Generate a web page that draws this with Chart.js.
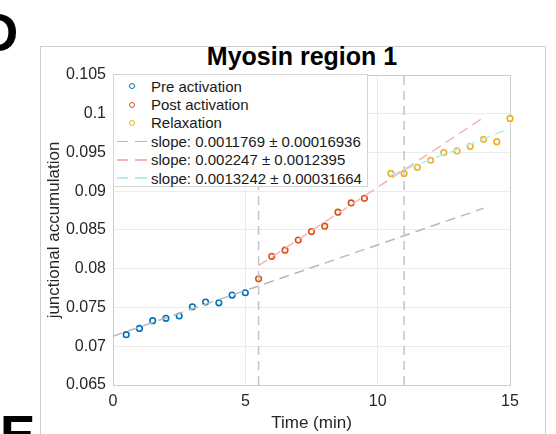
<!DOCTYPE html>
<html>
<head>
<meta charset="utf-8">
<script src="https://cdn.jsdelivr.net/npm/chart.js@4.4.1/dist/chart.umd.min.js"></script>
<style>
    body { margin: 0; width: 556px; height: 434px; overflow: hidden; background: #fff; position: relative; font-family: 'Liberation Sans', Arial, sans-serif; }
    .painel { position: absolute; left: 40px; top: 46px; width: 506px; height: 400px; border: 1px solid #cfcfcf; box-sizing: border-box; }
    .letra { position: absolute; font-weight: bold; font-size: 53px; line-height: 53px; color: #000; }
    #titulo { position: absolute; left: 0; top: 44px; width: 604px; text-align: center; font-weight: bold; font-size: 25px; line-height: 25px; color: #000; white-space: nowrap; }
    #grafico { position: absolute; left: 0; top: 0; }
    #legenda { position: absolute; left: 113px; top: 74px; width: 255px; height: 113px; box-sizing: border-box; border: 1px solid #d4d4d4; background: #fff; padding-top: 2px; }
    .linha { height: 18.4px; display: flex; align-items: center; font-size: 15px; color: #1a1a1a; white-space: nowrap; }
    .amostra { width: 36px; display: flex; justify-content: center; align-items: center; margin-right: 1px; }
    .bolinha { width: 4px; height: 4px; border-radius: 50%; border: 1.6px solid; }
    .traco { width: 30px; height: 1.5px; }
</style>
</head>
<body>
<div class="painel"></div>
<div class="letra" style="left:-20px; top:6px;">D</div>
<div class="letra" style="left:0px; top:408px;">E</div>
<div id="titulo">Myosin region 1</div>
<canvas id="grafico" width="556" height="434"></canvas>
<div id="legenda"></div>
<script>
// Dados
const tempoPre = [0.5, 1, 1.5, 2, 2.5, 3, 3.5, 4, 4.5, 5];
const valoresPre = [0.0715, 0.0723, 0.0733, 0.0736, 0.0739, 0.0751, 0.0757, 0.0756, 0.0766, 0.0769];

const tempoPos = [5.5, 6, 6.5, 7, 7.5, 8, 8.5, 9, 9.5];
const valoresPos = [0.0787, 0.0816, 0.0824, 0.0837, 0.0848, 0.0855, 0.0873, 0.0885, 0.0891];

const tempoRelax = [10.5, 11, 11.5, 12, 12.5, 13, 13.5, 14, 14.5, 15];
const valoresRelax = [0.0923, 0.0923, 0.0931, 0.0940, 0.0950, 0.0952, 0.0958, 0.0967, 0.0964, 0.0994];

// Retas de ajuste (pontas)
const ajustePreX = [0, 14];
const ajustePreY = [0.0713, 0.0878];
const ajustePosX = [5.5, 14];
const ajustePosY = [0.0804, 0.0995];
const ajusteRelaxX = [10.5, 15];
const ajusteRelaxY = [0.0921, 0.0981];

// Linhas verticais que separam as fases
const limitesFase = [5.5, 11];

const ticksX = [0, 5, 10, 15];
const ticksY = [0.065, 0.07, 0.075, 0.08, 0.085, 0.09, 0.095, 0.1, 0.105];

const rotulos = ['Pre activation', 'Post activation', 'Relaxation',
    'slope: 0.0011769 \u00b1 0.00016936',
    'slope: 0.002247 \u00b1 0.0012395',
    'slope: 0.0013242 \u00b1 0.00031664'];

const corPre = '#0072BD';
const corPos = '#D95319';
const corRelax = '#EDB120';
const corAjPre = '#b8b8b8';
const corAjPos = '#f4b4b4';
const corAjRelax = '#b4eef4';

const fonte = "'Liberation Sans', Arial, sans-serif";

function pontos(xs, ys) {
    return xs.map((x, i) => ({ x: x, y: ys[i] }));
}

function serieMarcador(label, xs, ys, cor) {
    return {
        label: label,
        data: pontos(xs, ys),
        showLine: false,
        borderColor: cor,
        backgroundColor: '#fff',
        pointRadius: 2.8,
        pointBorderWidth: 1.6,
        clip: false
    };
}

function serieReta(label, xs, ys, cor, traco) {
    return {
        label: label,
        data: pontos(xs, ys),
        showLine: true,
        borderColor: cor,
        borderWidth: 1.5,
        borderDash: traco,
        pointRadius: 0,
        fill: false
    };
}

const datasets = [];
limitesFase.forEach(x => {
    datasets.push(serieReta('limite', [x, x], [ticksY[0], ticksY[ticksY.length - 1]], '#c4c4c4', [9, 6]));
});
datasets.push(serieReta(rotulos[3], ajustePreX, ajustePreY, corAjPre, [10, 6]));
datasets.push(serieReta(rotulos[4], ajustePosX, ajustePosY, corAjPos, [10, 6]));
datasets.push(serieReta(rotulos[5], ajusteRelaxX, ajusteRelaxY, corAjRelax, [10, 6]));
datasets.push(serieMarcador(rotulos[0], tempoPre, valoresPre, corPre));
datasets.push(serieMarcador(rotulos[1], tempoPos, valoresPos, corPos));
datasets.push(serieMarcador(rotulos[2], tempoRelax, valoresRelax, corRelax));

// Caixa em volta da área do gráfico
const caixa = {
    id: 'caixa',
    beforeDatasetsDraw(chart) {
        const a = chart.chartArea;
        const ctx = chart.ctx;
        ctx.save();
        ctx.strokeStyle = '#cccccc';
        ctx.lineWidth = 1;
        ctx.strokeRect(Math.round(a.left) + 0.5, Math.round(a.top) + 0.5, Math.round(a.right - a.left), Math.round(a.bottom - a.top));
        ctx.restore();
    }
};

new Chart(document.getElementById('grafico').getContext('2d'), {
    type: 'scatter',
    data: { datasets: datasets },
    options: {
        responsive: false,
        animation: false,
        layout: { padding: { left: 44, right: 46, top: 75, bottom: 0 } },
        plugins: {
            legend: { display: false },
            tooltip: { enabled: false }
        },
        scales: {
            x: {
                type: 'linear',
                min: 0,
                max: 15,
                afterBuildTicks: s => { s.ticks = ticksX.map(v => ({ value: v })); },
                afterFit: s => { s.height = 49; },
                grid: { color: '#ebebeb', drawTicks: false },
                border: { display: false },
                ticks: {
                    color: '#262626',
                    padding: 7,
                    font: { family: fonte, size: 16 },
                    callback: v => String(v)
                },
                title: {
                    display: true,
                    text: 'Time (min)',
                    color: '#262626',
                    font: { family: fonte, size: 17 },
                    padding: { top: 0, bottom: 0 }
                }
            },
            y: {
                min: 0.065,
                max: 0.105,
                afterBuildTicks: s => { s.ticks = ticksY.map(v => ({ value: v })); },
                afterFit: s => { s.width = 69; },
                grid: { color: '#ebebeb', drawTicks: false },
                border: { display: false },
                ticks: {
                    color: '#262626',
                    padding: 7,
                    font: { family: fonte, size: 16 },
                    callback: v => String(parseFloat(v.toFixed(3)))
                },
                title: {
                    display: true,
                    text: 'junctional accumulation',
                    color: '#262626',
                    font: { family: fonte, size: 17 },
                    padding: { top: 0, bottom: 0 }
                }
            }
        }
    },
    plugins: [caixa]
});

// Legenda montada em HTML dentro da área do gráfico
const coresLegenda = [corPre, corPos, corRelax, corAjPre, corAjPos, corAjRelax];
const legenda = document.getElementById('legenda');
rotulos.forEach((txt, i) => {
    const linha = document.createElement('div');
    linha.className = 'linha';
    const amostra = document.createElement('span');
    amostra.className = 'amostra';
    const marca = document.createElement('span');
    if (i < 3) {
        marca.className = 'bolinha';
        marca.style.borderColor = coresLegenda[i];
    } else {
        marca.className = 'traco';
        marca.style.background = 'linear-gradient(to right, ' + coresLegenda[i] + ' 0 11px, transparent 11px 18px, ' + coresLegenda[i] + ' 18px 30px)';
    }
    amostra.appendChild(marca);
    const texto = document.createElement('span');
    texto.textContent = txt;
    linha.appendChild(amostra);
    linha.appendChild(texto);
    legenda.appendChild(linha);
});
</script>
</body>
</html>
